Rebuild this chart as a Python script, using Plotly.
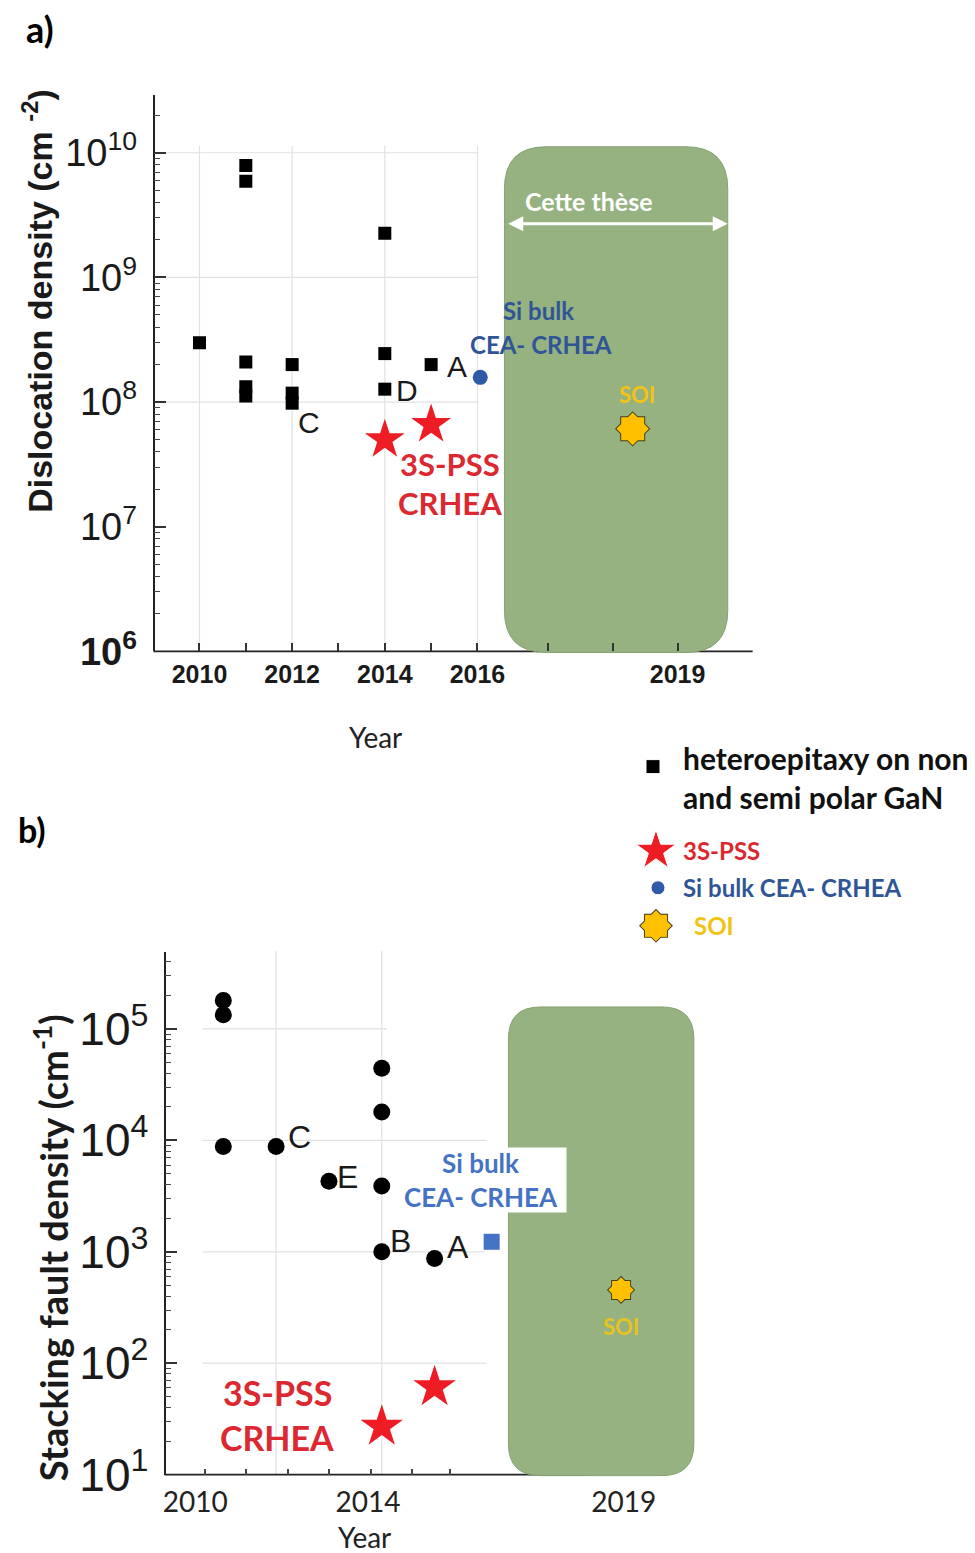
import plotly.graph_objects as go

# page geometry: 8 px body margin; the photographed page is squeezed a little vertically,
# so reference pixel rows are mapped back to page rows with SY / TOP
OFF = 8
SY, TOP = 0.982, 2.6
W, H = 975 - 2 * OFF, 1565


def px(x):
    return (x - OFF) / W


def py(y):
    page_y = (y - TOP) / SY
    return 1 - (page_y - OFF) / H


# ---------------- panel a) dislocation density ----------------
hetero_a_year = [2010, 2011, 2011, 2011, 2011, 2011, 2012, 2012, 2012, 2014, 2014, 2014, 2015]
hetero_a_val = [3.0e8, 7.9e9, 5.9e9, 2.1e8, 1.33e8, 1.12e8, 2.0e8, 1.18e8, 0.98e8, 2.26e9, 2.45e8, 1.27e8, 2.0e8]
pss_a_year = [2014, 2015]
pss_a_val = [5.0e7, 6.6e7]
sibulk_a_year = [2016.06]
sibulk_a_val = [1.58e8]
soi_a_year = [2019.35]
soi_a_val = [6.1e7]

a_tick_vals = [2010, 2012, 2014, 2016, 2020.32]
a_tick_text = ['2010', '2012', '2014', '2016', '2019']
a_minor_vals = [2011, 2013, 2015, 2017.53, 2018.92]
a_y_vals = [1e6, 1e7, 1e8, 1e9, 1e10]
a_y_text = ['<b>10<sup>6</sup></b>', '10<sup>7</sup>', '10<sup>8</sup>', '10<sup>9</sup>', '10<sup>10</sup>']
a_grid_years = [2010, 2012, 2014, 2016]
a_grid_decades = [1e8, 1e9, 1e10]

# ---------------- panel b) stacking fault density ----------------
hetero_b_year = [2011, 2011, 2011, 2012, 2013, 2014, 2014, 2014, 2014, 2015]
hetero_b_val = [1.8e5, 1.34e5, 8.8e3, 8.8e3, 4.3e3, 4.45e4, 1.8e4, 3.9e3, 1.0e3, 8.7e2]
pss_b_year = [2014, 2015]
pss_b_val = [27, 61]
sibulk_b_year = [2016.08]
sibulk_b_val = [1.23e3]
soi_b_year = [2018.53]
soi_b_val = [455]

b_tick_vals = [2010.47, 2013.74, 2018.58]
b_tick_text = ['2010', '2014', '2019']
b_minor_vals = [2010.66, 2011.43, 2012.23, 2013.0, 2013.79, 2014.57, 2015.30]
b_y_vals = [1e1, 1e2, 1e3, 1e4, 1e5]
b_y_text = ['10<sup>1</sup>', '10<sup>2</sup>', '10<sup>3</sup>', '10<sup>4</sup>', '10<sup>5</sup>']
b_grid_years = [2012, 2014]
b_grid_decades = [1e2, 1e3, 1e4, 1e5]
b_grid_right = [485, 483, 485, 385]

# legend keys (pixel positions of the key column)
legend_x = [652, 655, 657, 655]
legend_y = [768, 852, 889, 927]

RED_MARK = '#ee1c25'
RED_TEXT = '#dc2830'
BLUE_A = '#2f5597'
BLUE_B = '#4472c4'
GOLD = '#ffc000'
GOLD_TEXT = '#f2c214'
GREEN = '#95b280'
GRID = '#e2e2e2'
CAL = 'Lato'
ARIAL = 'Liberation Sans'

fig = go.Figure()


def add_soi(xs, ys, size, xa, ya):
    # 8-point seal made from a square and a 45 deg rotated square
    for lw in (2, 0):
        fig.add_trace(go.Scatter(
            x=xs + xs, y=ys + ys, mode='markers', xaxis=xa, yaxis=ya,
            marker=dict(symbol='square', size=size, color=GOLD, opacity=1,
                        angle=[0] * len(xs) + [45] * len(xs),
                        line=dict(color='#45421c', width=lw)),
            showlegend=False, hoverinfo='skip'))


# panel a traces
fig.add_trace(go.Scatter(x=hetero_a_year, y=hetero_a_val, mode='markers', xaxis='x', yaxis='y',
                         marker=dict(symbol='square', size=13, color='black'), showlegend=False))
fig.add_trace(go.Scatter(x=pss_a_year, y=pss_a_val, mode='markers', xaxis='x', yaxis='y',
                         marker=dict(symbol='star', size=30, color=RED_MARK), showlegend=False))
fig.add_trace(go.Scatter(x=sibulk_a_year, y=sibulk_a_val, mode='markers', xaxis='x', yaxis='y',
                         marker=dict(symbol='circle', size=15, color='#2e5aa8'), showlegend=False))
add_soi(soi_a_year, soi_a_val, 23, 'x', 'y')

# panel b traces
fig.add_trace(go.Scatter(x=hetero_b_year, y=hetero_b_val, mode='markers', xaxis='x2', yaxis='y2',
                         marker=dict(symbol='circle', size=17, color='black'), showlegend=False))
fig.add_trace(go.Scatter(x=pss_b_year, y=pss_b_val, mode='markers', xaxis='x2', yaxis='y2',
                         marker=dict(symbol='star', size=32, color=RED_MARK), showlegend=False))
fig.add_trace(go.Scatter(x=sibulk_b_year, y=sibulk_b_val, mode='markers', xaxis='x2', yaxis='y2',
                         marker=dict(symbol='square', size=16, color=BLUE_B), showlegend=False))
add_soi(soi_b_year, soi_b_val, 18, 'x2', 'y2')

# legend keys
fig.add_trace(go.Scatter(x=legend_x[:3], y=legend_y[:3], mode='markers', xaxis='x3', yaxis='y3',
                         marker=dict(symbol=['square', 'star', 'circle'], size=[14, 30, 14], opacity=1,
                                     color=['black', RED_MARK, '#2e5aa8']),
                         showlegend=False, hoverinfo='skip'))
add_soi(legend_x[3:], legend_y[3:], 22, 'x3', 'y3')

shapes = []
# grid lines
for yr in a_grid_years:
    shapes.append(dict(type='line', xref='x', yref='paper', x0=yr, x1=yr, y0=py(653), y1=py(148),
                       line=dict(color=GRID, width=1.2), layer='below'))
for d in a_grid_decades:
    shapes.append(dict(type='line', xref='paper', yref='y', x0=px(163), x1=px(476), y0=d, y1=d,
                       line=dict(color=GRID, width=1.2), layer='below'))
for yr in b_grid_years:
    shapes.append(dict(type='line', xref='x2', yref='paper', x0=yr, x1=yr, y0=py(1475), y1=py(952),
                       line=dict(color=GRID, width=1.2), layer='below'))
for d, xr in zip(b_grid_decades, b_grid_right):
    shapes.append(dict(type='line', xref='paper', yref='y2', x0=px(200), x1=px(xr), y0=d, y1=d,
                       line=dict(color=GRID, width=1.2), layer='below'))

# x axis lines
shapes.append(dict(type='line', xref='paper', yref='paper', x0=px(151), x1=px(752), y0=py(653), y1=py(653),
                   line=dict(color='#222', width=1.8), layer='between'))
shapes.append(dict(type='line', xref='paper', yref='paper', x0=px(162), x1=px(590), y0=py(1475), y1=py(1475),
                   line=dict(color='#222', width=1.8), layer='between'))


def rounded_box(x0, y0, x1, y1, r):
    X0, X1 = px(x0), px(x1)
    Y0, Y1 = py(y0), py(y1)
    rx, ry = r / W, r / SY / H
    path = (f'M {X0 + rx},{Y0} L {X1 - rx},{Y0} Q {X1},{Y0} {X1},{Y0 - ry} '
            f'L {X1},{Y1 + ry} Q {X1},{Y1} {X1 - rx},{Y1} L {X0 + rx},{Y1} '
            f'Q {X0},{Y1} {X0},{Y1 + ry} L {X0},{Y0 - ry} Q {X0},{Y0} {X0 + rx},{Y0} Z')
    return dict(type='path', xref='paper', yref='paper', path=path, fillcolor=GREEN,
                line=dict(color='#85a171', width=1), layer='between')


shapes.append(rounded_box(503, 149, 727, 654, 42))
shapes.append(rounded_box(507, 1008, 693, 1476, 32))

annotations = []


def label(text, x, y, size, color='black', family=CAL, bold=True, **kw):
    t = f'<b>{text}</b>' if bold else text
    annotations.append(dict(text=t, x=px(x), y=py(y), xref='paper', yref='paper', showarrow=False,
                            xanchor=kw.pop('xanchor', 'center'), yanchor='middle',
                            font=dict(family=family, size=size, color=color), **kw))


label('a)', 37, 31, 36)
label('b)', 29, 831, 34)
label('Dislocation density (cm <sup>-2</sup>)', 35, 303, 34, color='#1a1a1a', family=ARIAL, textangle=-90)
label('Stacking fault density (cm<sup>-1</sup>)', 48, 1248, 38, color='#1a1a1a', textangle=-90)
label('Year', 374, 738, 28, color='#222', bold=False)
label('Year', 363, 1537, 28, color='#222', bold=False)

# point letters
for t, x, y in [('C', 307, 424), ('D', 405, 392), ('A', 455, 368)]:
    label(t, x, y, 30, color='#1a1a1a', family=ARIAL, bold=False)
for t, x, y in [('C', 297, 1138), ('E', 346, 1178), ('B', 399, 1242), ('A', 456, 1248)]:
    label(t, x, y, 32, color='#1a1a1a', family=ARIAL, bold=False)

label('Si bulk', 537, 313, 24, color=BLUE_A)
label('CEA- CRHEA', 540, 346, 24, color=BLUE_A)
label('SOI', 636, 396, 22, color=GOLD_TEXT)
label('3S-PSS', 448, 466, 31, color=RED_TEXT)
label('CRHEA', 448, 505, 31, color=RED_TEXT)
label('Cette thèse', 588, 203, 25, color='white')

label('3S-PSS', 275, 1393, 34, color=RED_TEXT)
label('CRHEA', 275, 1438, 34, color=RED_TEXT)
label('SOI', 620, 1327, 22, color='#e8c21e')
annotations.append(dict(text='<b>Si bulk<br>CEA- CRHEA</b>', x=px(479), y=py(1181), xref='paper', yref='paper',
                        showarrow=False, xanchor='center', yanchor='middle', bgcolor='white',
                        width=168, height=62, font=dict(family=CAL, size=26, color=BLUE_B)))

# legend text
annotations.append(dict(text='<b>heteroepitaxy on non<br>and semi polar GaN</b>', x=px(680), y=py(779),
                        xref='paper', yref='paper', showarrow=False, xanchor='left', yanchor='middle',
                        align='left', font=dict(family=CAL, size=30, color='#111')))
label('3S-PSS', 680, 852, 24, color=RED_TEXT, xanchor='left')
label('Si bulk CEA- CRHEA', 680, 889, 24, color=BLUE_A, xanchor='left')
label('SOI', 691, 927, 24, color=GOLD_TEXT, xanchor='left')

# "Cette these" double arrow
annotations.append(dict(text='', x=px(727), y=py(226), xref='paper', yref='paper', showarrow=True,
                        ax=-221, ay=0, arrowhead=2, startarrowhead=2, arrowside='end+start',
                        arrowsize=1, arrowwidth=3, arrowcolor='white'))

# legend axis works in reference pixel units
ref_top = TOP + SY * OFF
ref_bottom = TOP + SY * (OFF + H)

fig.update_layout(
    width=W, height=H,
    margin=dict(l=0, r=0, t=0, b=0),
    paper_bgcolor='white', plot_bgcolor='rgba(0,0,0,0)',
    showlegend=False,
    shapes=shapes,
    annotations=annotations,
    xaxis=dict(domain=[px(152), px(752)], range=[2009.03, 2021.94], anchor='y',
               showline=False, showgrid=False, zeroline=False,
               tickmode='array', tickvals=a_tick_vals, ticktext=a_tick_text,
               ticks='inside', ticklen=8, tickwidth=1.5, tickcolor='#333', ticklabelstandoff=6,
               tickfont=dict(family=ARIAL, size=25, color='#1a1a1a', weight='bold'),
               minor=dict(tickmode='array', tickvals=a_minor_vals, ticks='inside', ticklen=8,
                          tickwidth=1.5, tickcolor='#333', showgrid=False)),
    yaxis=dict(domain=[py(653), py(97)], type='log', range=[6, 10.466], anchor='x',
               showline=True, linecolor='#222', linewidth=1.8, showgrid=False, zeroline=False,
               tickmode='array', tickvals=a_y_vals, ticktext=a_y_text,
               ticks='inside', ticklen=12, tickwidth=1.5, tickcolor='#333', ticklabelstandoff=8,
               tickfont=dict(family=ARIAL, size=38, color='#1a1a1a'),
               minor=dict(dtick='D1', ticks='inside', ticklen=6, tickwidth=1, tickcolor='#444', showgrid=False)),
    xaxis2=dict(domain=[px(163), px(700)], range=[2009.906, 2020.04], anchor='y2',
                showline=False, showgrid=False, zeroline=False,
                tickmode='array', tickvals=b_tick_vals, ticktext=b_tick_text,
                ticks='', ticklabelstandoff=8,
                tickfont=dict(family=CAL, size=28, color='#222'),
                minor=dict(tickmode='array', tickvals=b_minor_vals, ticks='inside', ticklen=6,
                           tickwidth=1.5, tickcolor='#444', showgrid=False)),
    yaxis2=dict(domain=[py(1475), py(953)], type='log', range=[1, 5.692], anchor='x2',
                showline=True, linecolor='#222', linewidth=1.8, showgrid=False, zeroline=False,
                tickmode='array', tickvals=b_y_vals, ticktext=b_y_text,
                ticks='inside', ticklen=12, tickwidth=1.5, tickcolor='#333', ticklabelstandoff=6,
                tickfont=dict(family=ARIAL, size=46, color='#1a1a1a'),
                minor=dict(dtick='D1', ticks='inside', ticklen=6, tickwidth=1, tickcolor='#444', showgrid=False)),
    xaxis3=dict(domain=[0, 1], range=[OFF, OFF + W], visible=False, anchor='y3', fixedrange=True),
    yaxis3=dict(domain=[0, 1], range=[ref_bottom, ref_top], visible=False, anchor='x3', fixedrange=True),
)

fig.write_html('out.html')
